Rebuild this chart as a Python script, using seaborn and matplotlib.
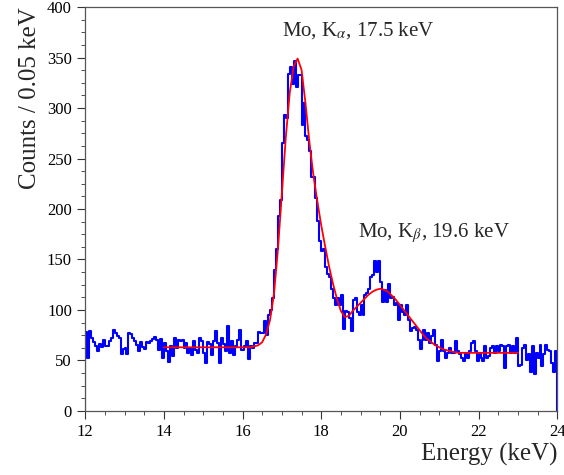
import numpy as np
import pandas as pd
import seaborn as sns
import matplotlib.pyplot as plt
from matplotlib.ticker import MultipleLocator

# Histogram contents, 0.05 keV bins from 12 to 24 keV
counts = [
    78, 52, 79, 72, 68, 64, 59, 66, 63, 70, 64, 64, 69, 72, 80, 77, 74, 72, 56, 61,
    62, 56, 77, 76, 72, 69, 65, 59, 68, 63, 61, 68, 67, 69, 71, 73, 70, 60, 71, 52,
    67, 59, 48, 64, 54, 72, 62, 70, 69,
    70, 62, 67, 57, 62, 55, 69, 60, 57, 72, 69, 57, 47, 68, 66, 55, 69, 79, 67, 47,
    72, 66, 59, 84, 57, 69, 55, 64, 70, 80, 60, 60, 64, 69, 51, 64, 62, 67, 67, 78,
    77, 77, 89, 75, 95, 100,
    112, 140, 160, 193, 209, 265, 293, 290, 334, 341, 324, 347, 321, 333, 333, 283,
    305, 272,
    268, 257, 232, 232, 211, 188, 168, 158, 160, 143, 136, 133, 121, 112, 105, 112, 105,
    115, 81, 99, 98, 92, 79, 110, 112, 98, 95, 105, 95, 115, 117, 121, 133, 135, 148,
    138, 148, 128, 108, 120, 108, 126, 112, 113, 105,
    107, 90, 105, 98, 95, 105, 90, 79, 82, 83, 80, 70, 61, 70, 80, 70, 77, 67, 74, 80,
    65, 49, 59, 70, 59, 52, 57, 62, 57, 57, 69, 59, 56, 52, 49, 56, 52, 59,
    67, 69, 59, 49, 56, 52, 49, 64, 52, 54, 62, 64, 57, 64, 59, 65, 64, 42, 64, 65,
    57, 64, 57, 72, 44, 45, 62, 65, 50, 56, 39, 64, 37, 57, 52, 65, 44, 56, 65, 60,
    59, 47, 39, 59,
]
bin_edges = np.linspace(12, 24, 241)
bin_centers = (bin_edges[:-1] + bin_edges[1:]) / 2

# Fit curve (Kalpha + Kbeta + background), read every 0.1 keV from 14 to 23 keV
fit_energy = np.round(np.linspace(14.0, 23.0, 91), 1)
fit_counts = [
    63, 63, 63, 63, 63, 63, 63, 63, 63, 63, 63, 63, 63, 63, 63, 63, 63, 63, 63, 63,
    63, 63, 63, 64, 65, 68, 76, 90, 116, 160, 215, 271, 315, 341, 349, 338, 305, 266,
    234, 208, 184, 163, 143, 126, 111, 99, 93, 94, 99, 103, 107, 111, 115, 118, 120,
    121, 120, 118, 114, 110, 105, 100, 95, 90, 85, 80, 75, 71, 68, 65, 63, 61, 60,
    59, 58, 57.5, 57.5, 57.5, 57.5, 57.5, 57.5, 57.5, 57.5, 57.5, 57.5, 57.5, 57.5,
    57.5, 57.5, 57.5, 57.5,
]

hist_df = pd.DataFrame({"energy": bin_centers, "counts": counts})
fit_df = pd.DataFrame({"energy": fit_energy, "counts": fit_counts})

sns.set_style("ticks")
plt.rcParams["font.family"] = ["Liberation Serif", "DejaVu Serif"]
plt.rcParams["mathtext.fontset"] = "stix"

fig = plt.figure(figsize=(5.64, 4.75), dpi=100)
ax = fig.add_axes([0.151, 0.135, 0.837, 0.85])

sns.histplot(data=hist_df, x="energy", weights="counts", binwidth=0.05,
             binrange=(12, 24), element="step", fill=False, color="#0000ff",
             linewidth=1.5, ax=ax)
# close the histogram outline down to zero at both ends
ax.vlines([bin_edges[0], bin_edges[-1]], 0, [counts[0], counts[-1]],
          color="#0000ff", linewidth=1.5)
sns.lineplot(data=fit_df, x="energy", y="counts", color="#ff0000",
             linewidth=1.3, ax=ax)

ax.set_xlim(12, 24)
ax.set_ylim(0, 400)
ax.xaxis.set_major_locator(MultipleLocator(2))
ax.xaxis.set_minor_locator(MultipleLocator(0.5))
ax.yaxis.set_major_locator(MultipleLocator(50))
ax.yaxis.set_minor_locator(MultipleLocator(12.5))
ax.tick_params(which="both", direction="out", colors="#333333", labelcolor="black",
               labelsize=12)
ax.tick_params(which="major", length=6)
ax.tick_params(which="minor", length=3)
for s in ax.spines.values():
    s.set_visible(True)
    s.set_color("#555555")
    s.set_linewidth(0.9)

ax.set_xlabel("Energy (keV)", fontsize=18, loc="right", labelpad=2)
ax.set_ylabel("Counts / 0.05 keV", fontsize=18, loc="top", labelpad=4)

ax.text(17.0, 377, "Mo, K$_{\\alpha}$, 17.5 keV", fontsize=15, va="center")
ax.text(18.93, 176, "Mo, K$_{\\beta}$, 19.6 keV", fontsize=15, va="center")

fig.savefig("out.png", dpi=100)
